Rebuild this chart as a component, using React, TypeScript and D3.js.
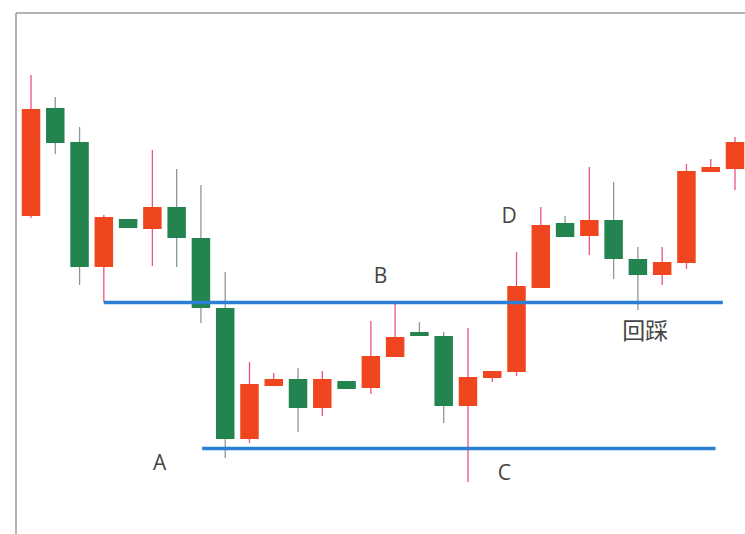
import React, { useEffect, useRef } from 'react';
import * as d3 from 'd3';

// candle data (arbitrary price units), one entry per bar
const opens = [28.4, 39.2, 35.8, 23.3, 28.1, 27.1, 29.3, 26.2, 19.2, 6.1, 11.4, 12.1, 9.2, 11.9, 11.2, 14.3, 16.8, 16.4, 9.4, 12.2, 12.8, 21.2, 27.7, 26.4, 28.0, 24.1, 22.5, 23.7, 32.8, 33.1];
const closes = [39.1, 35.7, 23.3, 28.3, 27.2, 29.3, 26.2, 19.2, 6.1, 11.6, 12.1, 9.2, 12.1, 11.1, 14.4, 16.3, 16.4, 9.4, 12.3, 12.9, 21.4, 27.5, 26.3, 28.0, 24.1, 22.5, 23.8, 32.9, 33.3, 35.8];
const highs = [42.5, 40.3, 37.3, 28.5, 28.1, 35.0, 33.1, 31.5, 22.8, 13.8, 12.7, 13.2, 12.9, 11.9, 17.9, 19.7, 17.8, 16.8, 17.2, 12.9, 24.8, 29.3, 28.4, 33.3, 31.8, 25.3, 25.3, 33.6, 34.1, 36.3];
const lows = [28.2, 34.6, 21.5, 19.8, 27.2, 23.4, 23.3, 17.7, 4.2, 5.7, 11.4, 6.8, 8.4, 11.1, 10.6, 14.3, 16.4, 7.7, 1.8, 11.8, 12.4, 21.2, 26.3, 24.5, 22.1, 19.0, 21.5, 23.1, 32.8, 31.0];

// horizontal support / resistance lines: level, from bar index, to bar index
const levelNames = ['B', 'A'];
const levelValues = [19.75, 5.15];
const levelFrom = [3, 7.05];
const levelTo = [28.5, 28.2];

// annotation labels: text, bar index, price, size
const labelTexts = ['A', 'B', 'C', 'D', '回踩'];
const labelIndex = [5.3, 14.4, 19.5, 19.7, 25.3];
const labelPrice = [3.8, 22.5, 2.8, 28.5, 17.0];
const labelSize = [21, 21, 21, 21, 23];

const W = 745;
const H = 534;

export default function App() {
  const ref = useRef<SVGSVGElement>(null);

  useEffect(() => {
    const svg = d3.select(ref.current);
    svg.selectAll('*').remove();

    const x = d3.scaleLinear().domain([0, 29]).range([31, 735]);
    const y = d3.scaleLinear().domain([0, 50]).range([500, 0]);
    const bw = 18.5;

    const red = '#f0461f';
    const redWick = '#e9557a';
    const green = '#248450';
    const greenWick = '#8a9c92';

    // frame
    svg.append('line').attr('x1', 16).attr('x2', 16).attr('y1', 13).attr('y2', H)
      .attr('stroke', '#9a9a9a').attr('stroke-width', 1.5);
    svg.append('line').attr('x1', 16).attr('x2', W).attr('y1', 13).attr('y2', 13)
      .attr('stroke', '#9a9a9a').attr('stroke-width', 1.5);

    const data = opens.map((o, i) => ({
      i, open: o, close: closes[i], high: highs[i], low: lows[i],
      up: closes[i] >= o,
    }));

    const g = svg.append('g');
    g.selectAll('line.wick')
      .data(data)
      .enter()
      .append('line')
      .attr('class', 'wick')
      .attr('x1', d => x(d.i))
      .attr('x2', d => x(d.i))
      .attr('y1', d => y(d.high))
      .attr('y2', d => y(d.low))
      .attr('stroke', d => (d.up ? redWick : greenWick))
      .attr('stroke-width', 1.3);

    g.selectAll('rect.body')
      .data(data)
      .enter()
      .append('rect')
      .attr('class', 'body')
      .attr('x', d => x(d.i) - bw / 2)
      .attr('width', bw)
      .attr('y', d => y(Math.max(d.open, d.close)))
      .attr('height', d => Math.max(1, Math.abs(y(d.open) - y(d.close))))
      .attr('fill', d => (d.up ? red : green));

    // level lines
    svg.selectAll('line.level')
      .data(levelNames)
      .enter()
      .append('line')
      .attr('class', 'level')
      .attr('x1', (_, i) => x(levelFrom[i]))
      .attr('x2', (_, i) => x(levelTo[i]))
      .attr('y1', (_, i) => y(levelValues[i]))
      .attr('y2', (_, i) => y(levelValues[i]))
      .attr('stroke', '#2b80d6')
      .attr('stroke-width', 3.5);

    svg.selectAll('text.lbl')
      .data(labelTexts)
      .enter()
      .append('text')
      .attr('class', 'lbl')
      .attr('x', (_, i) => x(labelIndex[i]))
      .attr('y', (_, i) => y(labelPrice[i]))
      .attr('text-anchor', 'middle')
      .attr('dominant-baseline', 'central')
      .attr('font-family', '"Open Sans", "Noto Sans CJK SC", sans-serif')
      .attr('font-size', (_, i) => labelSize[i])
      .attr('fill', '#444')
      .text(d => d);
  }, []);

  return (
    <svg
      ref={ref}
      width={W}
      height={H}
      style={{ position: 'absolute', left: 0, top: 0, display: 'block', background: '#fff' }}
    />
  );
}
